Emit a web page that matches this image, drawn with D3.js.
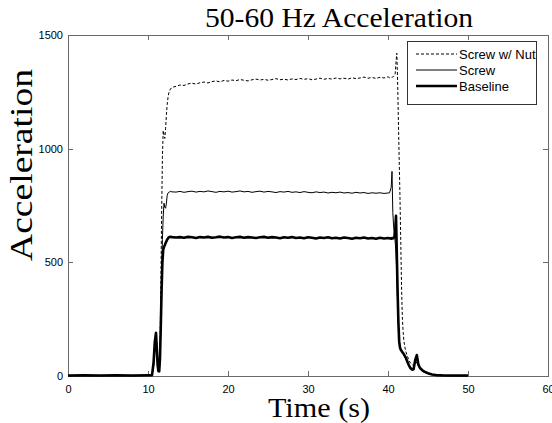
<!DOCTYPE html>
<html>
<head>
<meta charset="utf-8">
<script src="https://cdn.jsdelivr.net/npm/d3@7"></script>
<style>
  html, body { margin: 0; padding: 0; background: #fff; }
  svg { display: block; }
</style>
</head>
<body>
<svg id="chart" width="552" height="423"></svg>
<script>
// Sample times (s)
const time = [
  0, 2, 4, 6, 8, 10,
  10.5, 10.7, 10.85, 11.0, 11.1, 11.2, 11.3, 11.4, 11.5, 11.6, 11.7, 11.8, 11.9, 12.0, 12.1, 12.2, 12.3, 12.4, 12.5, 12.6, 12.8, 13.0,
  13.5, 14, 14.5, 15, 15.5, 16, 16.5, 17, 17.5, 18,
  18.5, 19, 19.5, 20, 20.5, 21, 21.5, 22, 22.5, 23,
  23.5, 24, 24.5, 25, 25.5, 26, 26.5, 27, 27.5, 28,
  28.5, 29, 29.5, 30, 30.5, 31, 31.5, 32, 32.5, 33,
  33.5, 34, 34.5, 35, 35.5, 36, 36.5, 37, 37.5, 38,
  38.5, 39, 39.5, 40,
  40.2, 40.4, 40.5, 40.6, 40.7, 40.8, 40.9, 41.0, 41.1, 41.2, 41.3, 41.4, 41.5, 41.6, 41.7, 41.8, 41.9, 42.0,
  42.2, 42.4, 42.6, 42.8, 43.0, 43.2, 43.4, 43.6, 43.8, 44.0, 44.3, 44.6, 45.0, 45.5, 46, 47, 48, 49, 50
];

// 50-60 Hz band acceleration for each configuration
const screwNut = [
  1, 2, 1, 2, 1, 2,
  2, 50, 140, 160, 110, 45, 20, 25, 120, 380, 700, 960, 1080, 1060, 1045, 1090, 1150, 1195, 1225, 1245, 1262, 1270,
  1274, 1280, 1278, 1285, 1288, 1284, 1290, 1293, 1289, 1295,
  1298, 1294, 1300, 1297, 1302, 1299, 1304, 1301, 1298, 1303,
  1306, 1302, 1305, 1301, 1304, 1308, 1303, 1306, 1302, 1307,
  1304, 1309, 1305, 1308, 1303, 1306, 1310, 1305, 1309, 1306,
  1311, 1307, 1310, 1306, 1312, 1308, 1311, 1315, 1310, 1313,
  1309, 1314, 1311, 1316,
  1312, 1315, 1313, 1316, 1318, 1320, 1330, 1380, 1420, 1300, 1120, 950, 780, 580, 380, 250, 190, 150,
  110, 90, 70, 58, 50, 45, 48, 62, 50, 38, 28, 20, 13, 8, 4, 2, 1, 1, 1
];

const screw = [
  1, 2, 1, 2, 1, 2,
  2, 40, 130, 170, 140, 60, 25, 18, 70, 230, 420, 600, 700, 760, 742, 738, 760, 795, 805, 808, 812, 810,
  809, 812, 808, 811, 813, 809, 812, 810, 814, 811,
  808, 812, 810, 813, 809, 811, 814, 810, 812, 808,
  811, 813, 809, 812, 810, 807, 811, 809, 812, 808,
  810, 807, 811, 808, 806, 810, 807, 809, 805, 808,
  806, 809, 805, 807, 804, 808, 805, 807, 803, 806,
  804, 806, 803, 805,
  806, 830, 900, 720, 660, 620, 590, 540, 450, 330, 220, 160, 135, 120, 112, 106, 100, 92,
  78, 60, 45, 35, 30, 35, 75, 80, 45, 32, 22, 16, 10, 6, 3, 2, 1, 1, 1
];

const baseline = [
  2, 3, 2, 3, 2, 3,
  3, 60, 150, 190, 120, 50, 22, 20, 80, 220, 380, 500, 555, 568, 575, 585, 592, 600, 605, 610, 612, 611,
  609, 611, 608, 612, 610, 607, 611, 609, 612, 608,
  610, 613, 609, 611, 607, 610, 612, 608, 611, 609,
  607, 610, 612, 608, 611, 609, 606, 610, 608, 611,
  607, 609, 606, 610, 608, 605, 609, 607, 610, 606,
  608, 605, 609, 607, 604, 608, 606, 609, 605, 607,
  604, 608, 605, 607,
  606, 604, 607, 605, 608, 612, 640, 705, 540, 370, 235, 150, 125, 115, 110, 105, 100, 95,
  82, 65, 48, 35, 28, 30, 70, 92, 50, 35, 25, 18, 12, 7, 4, 2, 2, 2, 2
];

const seriesNames = ["Screw w/ Nut", "Screw", "Baseline"];
const xTicks = [0, 10, 20, 30, 40, 50, 60];
const yTicks = [0, 500, 1000, 1500];

const titleText = "50-60 Hz Acceleration";
const xLabelText = "Time (s)";
const yLabelText = "Acceleration";

// ---- layout ----
const plot = { left: 68, right: 548, top: 35, bottom: 376 };
const svg = d3.select("#chart");

const x = d3.scaleLinear().domain([0, 60]).range([plot.left, plot.right]);
const y = d3.scaleLinear().domain([0, 1500]).range([plot.bottom, plot.top]);

const axisColor = "#6a6a6a";
const tickFont = "'Liberation Sans', Arial, sans-serif";
const serif = "'Liberation Serif', 'Times New Roman', serif";
const plain = d3.format("d");

// axes box with inward ticks on all four sides
const bottomAxis = d3.axisBottom(x).tickValues(xTicks).tickFormat(plain).tickSize(-5).tickPadding(9).tickSizeOuter(0);
const topAxis = d3.axisTop(x).tickValues(xTicks).tickSize(-5).tickFormat("").tickSizeOuter(0);
const leftAxis = d3.axisLeft(y).tickValues(yTicks).tickFormat(plain).tickSize(-5).tickPadding(5).tickSizeOuter(0);
const rightAxis = d3.axisRight(y).tickValues(yTicks).tickSize(-5).tickFormat("").tickSizeOuter(0);

function styleAxis(g) {
  g.selectAll(".domain").attr("stroke", axisColor).attr("shape-rendering", "crispEdges");
  g.selectAll(".tick line").attr("stroke", axisColor).attr("shape-rendering", "crispEdges");
  g.selectAll(".tick text").attr("fill", "#000").style("font-family", tickFont).style("font-size", "11px");
}

svg.append("g").attr("transform", `translate(0,${plot.bottom})`).call(bottomAxis).call(styleAxis);
svg.append("g").attr("transform", `translate(0,${plot.top})`).call(topAxis).call(styleAxis);
svg.append("g").attr("transform", `translate(${plot.left},0)`).call(leftAxis).call(styleAxis);
svg.append("g").attr("transform", `translate(${plot.right},0)`).call(rightAxis).call(styleAxis);

// ---- data lines ----
const styles = {
  "Screw w/ Nut": { width: 1, dash: "3,2", values: screwNut },
  "Screw": { width: 1, dash: null, values: screw },
  "Baseline": { width: 2.6, dash: null, values: baseline }
};

const line = d3.line()
  .x(d => x(d[0]))
  .y(d => y(d[1]));

seriesNames.forEach(name => {
  const s = styles[name];
  const pts = time.map((t, i) => [t, s.values[i]]);
  svg.append("path")
    .datum(pts)
    .attr("fill", "none")
    .attr("stroke", "#000")
    .attr("stroke-width", s.width)
    .attr("stroke-dasharray", s.dash)
    .attr("stroke-linejoin", "round")
    .attr("d", line);
});

// ---- legend ----
const lg = svg.append("g");
lg.append("rect")
  .attr("x", 407.5).attr("y", 41.5)
  .attr("width", 129).attr("height", 63)
  .attr("fill", "#fff").attr("stroke", "#333").attr("stroke-width", 1);

seriesNames.forEach((name, i) => {
  const s = styles[name];
  const cy = 54 + i * 16;
  lg.append("line")
    .attr("x1", 416).attr("x2", 457)
    .attr("y1", cy).attr("y2", cy)
    .attr("stroke", "#000")
    .attr("stroke-width", s.width)
    .attr("stroke-dasharray", s.dash);
  lg.append("text")
    .attr("x", 459).attr("y", cy + 4.5)
    .style("font-family", tickFont).style("font-size", "13px")
    .attr("fill", "#000")
    .text(name);
});

// ---- title and axis labels ----
svg.append("text")
  .attr("x", 339).attr("y", 27)
  .attr("text-anchor", "middle")
  .style("font-family", serif).style("font-size", "27px")
  .attr("textLength", 268).attr("lengthAdjust", "spacingAndGlyphs")
  .attr("fill", "#000")
  .text(titleText);

svg.append("text")
  .attr("x", 319).attr("y", 417)
  .attr("text-anchor", "middle")
  .style("font-family", serif).style("font-size", "28px")
  .attr("textLength", 102).attr("lengthAdjust", "spacingAndGlyphs")
  .attr("fill", "#000")
  .text(xLabelText);

svg.append("text")
  .attr("transform", "translate(32,165) rotate(-90)")
  .attr("text-anchor", "middle")
  .style("font-family", serif).style("font-size", "32px")
  .attr("textLength", 192).attr("lengthAdjust", "spacingAndGlyphs")
  .attr("fill", "#000")
  .text(yLabelText);
</script>
</body>
</html>
